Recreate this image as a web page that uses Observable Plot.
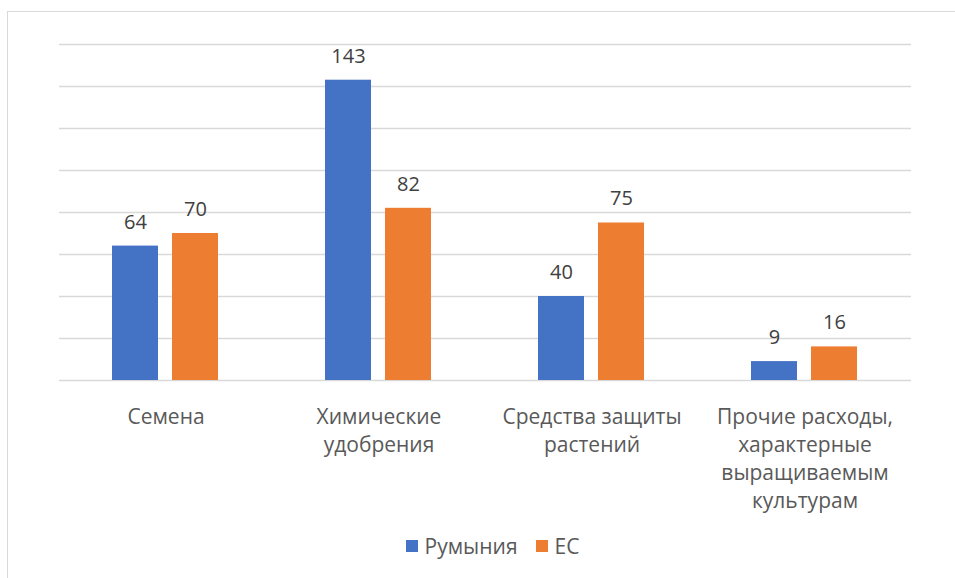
<!DOCTYPE html>
<html>
<head>
<meta charset="utf-8">
<script src="https://cdn.jsdelivr.net/npm/d3@7"></script>
<script src="https://cdn.jsdelivr.net/npm/@observablehq/plot@0.6"></script>
<style>
  html, body { margin: 0; padding: 0; background: #fff; }
  body { width: 955px; height: 578px; position: relative; overflow: hidden; font-family: "Open Sans", sans-serif; }
  #frame { position: absolute; left: 7px; top: 11px; width: 1000px; height: 700px; border: 1.5px solid #d9d9d9; box-sizing: border-box; pointer-events: none; }
  #chart { position: absolute; left: 0; top: 0; }
  #legend { position: absolute; left: 0; top: 532px; width: 985px; display: flex; justify-content: center; align-items: center; font-size: 21px; color: #595959; }
  .item { display: flex; align-items: center; margin: 0 9px; }
  .sw { width: 12px; height: 12px; margin-right: 7px; }
</style>
</head>
<body>
<div id="frame"></div>
<div id="chart"></div>
<div id="legend"></div>
<script>
const categories = ["Семена", "Химические удобрения", "Средства защиты растений", "Прочие расходы, характерные выращиваемым культурам"];
const categoryLabels = ["Семена", "Химические\nудобрения", "Средства защиты\nрастений", "Прочие расходы,\nхарактерные\nвыращиваемым\nкультурам"];
const series = ["Румыния", "ЕС"];
const romania = [64, 143, 40, 9];
const eu = [70, 82, 75, 16];
const colors = ["#4472C4", "#ED7D31"];
const yTicks = [0, 20, 40, 60, 80, 100, 120, 140, 160];

const data = [];
categories.forEach((c, i) => {
  data.push({cat: c, series: series[0], value: romania[i]});
  data.push({cat: c, series: series[1], value: eu[i]});
});
const labelOf = new Map(categories.map((c, i) => [c, categoryLabels[i]]));

const chart = Plot.plot({
  width: 955,
  height: 520,
  marginTop: 44,
  marginBottom: 140,
  marginLeft: 57,
  marginRight: 43,
  style: {fontFamily: "'Open Sans', sans-serif", background: "transparent"},
  fx: {domain: categories, padding: 0, label: null},
  x: {domain: series, paddingInner: 0.2295, paddingOuter: 0.869, axis: null},
  y: {domain: [0, 160], axis: null},
  color: {domain: series, range: colors},
  marks: [
    Plot.ruleY(yTicks, {stroke: "#d9d9d9", strokeWidth: 1.5}),
    Plot.barY(data, {fx: "cat", x: "series", y: "value", fill: "series"}),
    Plot.text(data, {fx: "cat", x: "series", y: "value", text: d => String(d.value), dy: -24, fontSize: 20, fill: "#404040"}),
    Plot.axisFx({anchor: "bottom", tickSize: 0, tickPadding: 24, fontSize: 21, lineHeight: 1.33, fill: "#595959", tickFormat: d => labelOf.get(d), label: null})
  ]
});
document.getElementById("chart").appendChild(chart);

const legend = document.getElementById("legend");
series.forEach((s, i) => {
  const item = document.createElement("div");
  item.className = "item";
  const sw = document.createElement("div");
  sw.className = "sw";
  sw.style.background = colors[i];
  const t = document.createElement("span");
  t.textContent = s;
  item.appendChild(sw);
  item.appendChild(t);
  legend.appendChild(item);
});
</script>
</body>
</html>
